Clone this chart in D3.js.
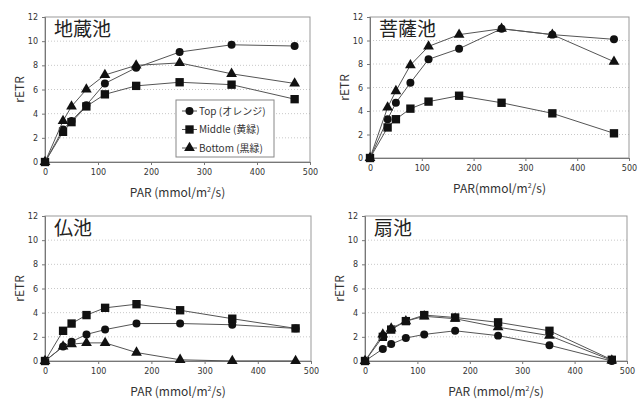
<!DOCTYPE html>
<html>
<head>
<meta charset="utf-8">
<script src="https://cdn.jsdelivr.net/npm/d3@7"></script>
<style>
  body { margin: 0; background: #fff; }
  svg text { font-family: "Noto Sans CJK JP", "DejaVu Sans", sans-serif; fill: #333; }
  .tick-label { font-size: 8px; font-family: "DejaVu Sans", sans-serif; }
  .axis-title { font-size: 12px; }
  .panel-title { font-size: 19px; fill: #222; }
  .legend-text { font-size: 10px; }
</style>
</head>
<body>
<div id="chart"></div>
<script>
// Shared x values (PAR) and axis ticks
const parValues = [0, 34, 50, 78, 113, 172, 254, 352, 471];
const xTicks = [0, 100, 200, 300, 400, 500];
const yTicks = [0, 2, 4, 6, 8, 10, 12];

const pondNames = ["地蔵池", "菩薩池", "仏池", "扇池"];
const seriesNames = ["Top (オレンジ)", "Middle (黄緑)", "Bottom (黒緑)"];

// rETR values per pond: Top (circle), Middle (square), Bottom (triangle)
const jizoTop    = [0, 2.7, 3.4, 4.7, 6.5, 7.8, 9.1, 9.7, 9.6];
const jizoMiddle = [0, 2.5, 3.3, 4.6, 5.6, 6.3, 6.6, 6.4, 5.2];
const jizoBottom = [0, 3.4, 4.6, 6.0, 7.2, 8.0, 8.2, 7.3, 6.5];

const bosatsuTop    = [0, 3.3, 4.7, 6.4, 8.4, 9.3, 11.0, 10.5, 10.1];
const bosatsuMiddle = [0, 2.6, 3.3, 4.2, 4.8, 5.3, 4.7, 3.8, 2.1];
const bosatsuBottom = [0, 4.3, 5.7, 7.9, 9.5, 10.5, 11.0, 10.5, 8.2];

const hotokeTop    = [0, 1.2, 1.6, 2.2, 2.6, 3.1, 3.1, 3.0, 2.7];
const hotokeMiddle = [0, 2.5, 3.1, 3.8, 4.4, 4.7, 4.2, 3.5, 2.7];
const hotokeBottom = [0, 1.2, 1.4, 1.5, 1.5, 0.7, 0.1, 0.0, 0.0];

const ogiTop    = [0, 1.0, 1.4, 1.9, 2.2, 2.5, 2.1, 1.3, 0.0];
const ogiMiddle = [0, 2.0, 2.6, 3.3, 3.8, 3.6, 3.2, 2.5, 0.1];
const ogiBottom = [0, 2.2, 2.7, 3.3, 3.7, 3.5, 2.8, 2.1, 0.05];

const pondSeries = [
    [jizoTop, jizoMiddle, jizoBottom],
    [bosatsuTop, bosatsuMiddle, bosatsuBottom],
    [hotokeTop, hotokeMiddle, hotokeBottom],
    [ogiTop, ogiMiddle, ogiBottom]
];
const xTitles = ["PAR (mmol/m", "PAR(mmol/m", "PAR (mmol/m", "PAR (mmol/m"];

// Plot area boxes of the four panels (pixels)
const panels = [
    {left: 45, right: 310, top: 17, bottom: 162},
    {left: 370, right: 629, top: 17, bottom: 158},
    {left: 45, right: 311, top: 216, bottom: 361},
    {left: 365, right: 627, top: 216, bottom: 361}
];

const svg = d3.select("#chart")
    .append("svg")
    .attr("width", 644)
    .attr("height", 399);

const circleSym = d3.symbol().type(d3.symbolCircle).size(50);
const squareSym = d3.symbol().type(d3.symbolSquare).size(70);
const triangleSym = d3.symbol().type(d3.symbolTriangle).size(50);
const symbols = [circleSym, squareSym, triangleSym];

panels.forEach((p, i) => {
    let x = d3.scaleLinear().domain([0, 500]).range([p.left, p.right]);
    let y = d3.scaleLinear().domain([0, 12]).range([p.bottom, p.top]);
    let g = svg.append("g");

    // gridlines
    g.selectAll(".grid")
        .data(yTicks.slice(1, -1))
        .enter()
        .append("line")
        .attr("x1", p.left).attr("x2", p.right)
        .attr("y1", d => y(d)).attr("y2", d => y(d))
        .attr("stroke", "#c8c8c8")
        .attr("stroke-dasharray", "1,2");

    // plot border
    g.append("rect")
        .attr("x", p.left).attr("y", p.top)
        .attr("width", p.right - p.left).attr("height", p.bottom - p.top)
        .attr("fill", "none")
        .attr("stroke", "#999");

    // axes
    let xAxis = d3.axisBottom(x).tickValues(xTicks).tickSize(3).tickPadding(4);
    let yAxis = d3.axisLeft(y).tickValues(yTicks).tickSize(3).tickPadding(4);
    let xg = g.append("g").attr("transform", `translate(0,${p.bottom})`).call(xAxis);
    let yg = g.append("g").attr("transform", `translate(${p.left},0)`).call(yAxis);
    [xg, yg].forEach(a => {
        a.select(".domain").attr("stroke", "#777");
        a.selectAll(".tick line").attr("stroke", "#777");
        a.selectAll(".tick text").attr("class", "tick-label").attr("fill", "#333");
    });

    // axis titles
    let xt = g.append("text")
        .attr("class", "axis-title")
        .attr("x", (p.left + p.right) / 2)
        .attr("y", p.bottom + 35)
        .attr("text-anchor", "middle");
    xt.append("tspan").text(xTitles[i]);
    xt.append("tspan").attr("font-size", "7px").attr("dy", -5).text("2");
    xt.append("tspan").attr("dy", 5).text("/s)");

    g.append("text")
        .attr("class", "axis-title")
        .attr("transform", `translate(${p.left - 21},${(p.top + p.bottom) / 2}) rotate(-90)`)
        .attr("text-anchor", "middle")
        .text("rETR");

    // panel title
    g.append("text")
        .attr("class", "panel-title")
        .attr("x", p.left + 9)
        .attr("y", p.top + 19)
        .text(pondNames[i]);

    // series lines and markers
    let line = d3.line().x((d, j) => x(parValues[j])).y(d => y(d));
    pondSeries[i].forEach((vals, s) => {
        g.append("path")
            .datum(vals)
            .attr("d", line)
            .attr("fill", "none")
            .attr("stroke", "#555")
            .attr("stroke-width", 1);
        g.selectAll(null)
            .data(vals)
            .enter()
            .append("path")
            .attr("d", symbols[s])
            .attr("transform", (d, j) => `translate(${x(parValues[j])},${y(d)})`)
            .attr("fill", "#111");
    });
});

// Legend in first panel
let legend = svg.append("g").attr("transform", "translate(176,100)");
legend.append("rect")
    .attr("width", 98).attr("height", 57)
    .attr("fill", "#fff").attr("stroke", "#888");
seriesNames.forEach((name, s) => {
    let row = legend.append("g").attr("transform", `translate(0,${11 + s * 18.5})`);
    row.append("line").attr("x1", 6).attr("x2", 21).attr("stroke", "#555");
    row.append("path").attr("d", symbols[s]).attr("transform", "translate(13.5,0)").attr("fill", "#111");
    row.append("text")
        .attr("class", "legend-text")
        .attr("x", 23).attr("y", 3.5)
        .text(name);
});
</script>
</body>
</html>
